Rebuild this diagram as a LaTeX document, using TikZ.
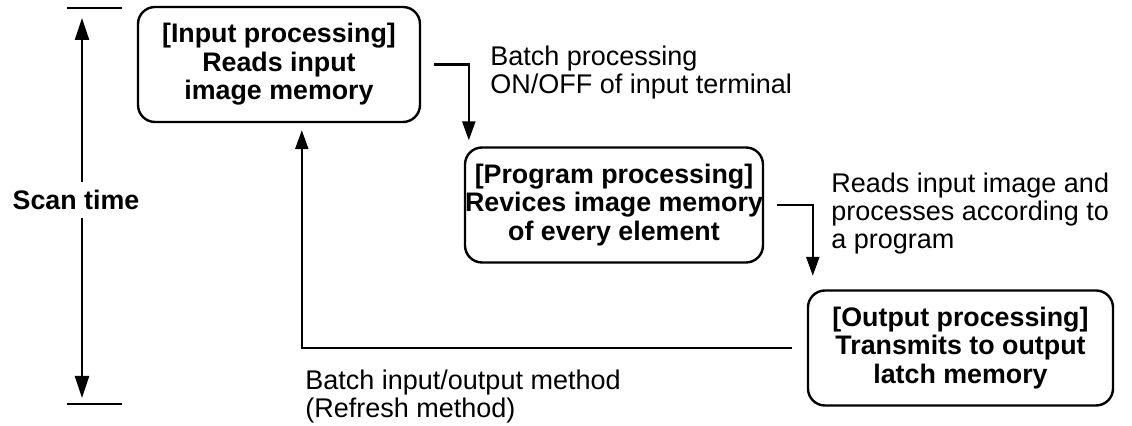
\documentclass[tikz,border=0pt]{standalone}
\usepackage{fontspec}
\setmainfont{Liberation Sans}
\usetikzlibrary{arrows.meta}
\usetikzlibrary{positioning}
\tikzset{proc/.style={ % Sets the properties for each processing box
draw,
line width=1.2pt,
rounded corners=8.5pt,
align=center,
inner sep=0pt,
minimum height=57.5pt,
font=\bfseries\fontsize{13.4}{14.3}\selectfont},
note/.style={ % Comments beside the flow lines
align=left,
inner sep=0pt,
anchor=west,
font=\fontsize{13.5}{14}\selectfont},
flow/.style={ % Flow lines with filled heads
draw,
line width=1.2pt,
-{Triangle[length=9.5pt,width=6.5pt]}}}

\begin{document}
\begin{tikzpicture}[x=0.5pt,y=-0.5pt]
\useasboundingbox (0,0) rectangle (1132,426);
\node[proc, minimum width=141pt] (input) at (279,64.5) {[Input processing]\\Reads input\\image memory};
\node[proc, minimum width=146pt] (program) at (614,205) {[Program processing]\\Revices image memory\\of every element};
\node[proc, minimum width=152.5pt] (output) at (960.5,348) {[Output processing]\\Transmits to output\\latch memory};
\node[inner sep=0pt, minimum height=17.5pt, font=\bfseries\fontsize{13.4}{14}\selectfont] (scan) at (76,200) {Scan time};
\node[note] (batch) at (490,73) {Batch processing\\ON/OFF of input terminal};
\node[note] (reads) at (831,214) {Reads input image and\\processes according to\\a program};
\node[note] (refresh) at (305,397) {Batch input/output method\\(Refresh method)};
\coordinate (ttop) at (82,8);
\coordinate (tbot) at (82,404);
% scan time span
\draw[line width=1.2pt] ([xshift=-7.5pt]ttop) -- ([xshift=20pt]ttop);
\draw[line width=1.2pt] ([xshift=-7.5pt]tbot) -- ([xshift=20pt]tbot);
\draw[flow, -{Triangle[length=11pt,width=7pt]}, shorten >=5pt] (scan.north -| ttop) -- (ttop);
\draw[flow, -{Triangle[length=11pt,width=7pt]}, shorten >=3pt] (scan.south -| ttop) -- (tbot);
% processing cycle
\draw[flow] ([xshift=6.5pt]input.east) -| ([xshift=2.5pt,yshift=3pt]program.north west);
\draw[flow] ([xshift=6.5pt]program.east) -| ([xshift=3pt,yshift=6.75pt]output.north west);
\draw[flow] ([xshift=-7.5pt]output.west) -| ([xshift=82.5pt,yshift=-3.5pt]input.south west);
\end{tikzpicture}
\end{document}
